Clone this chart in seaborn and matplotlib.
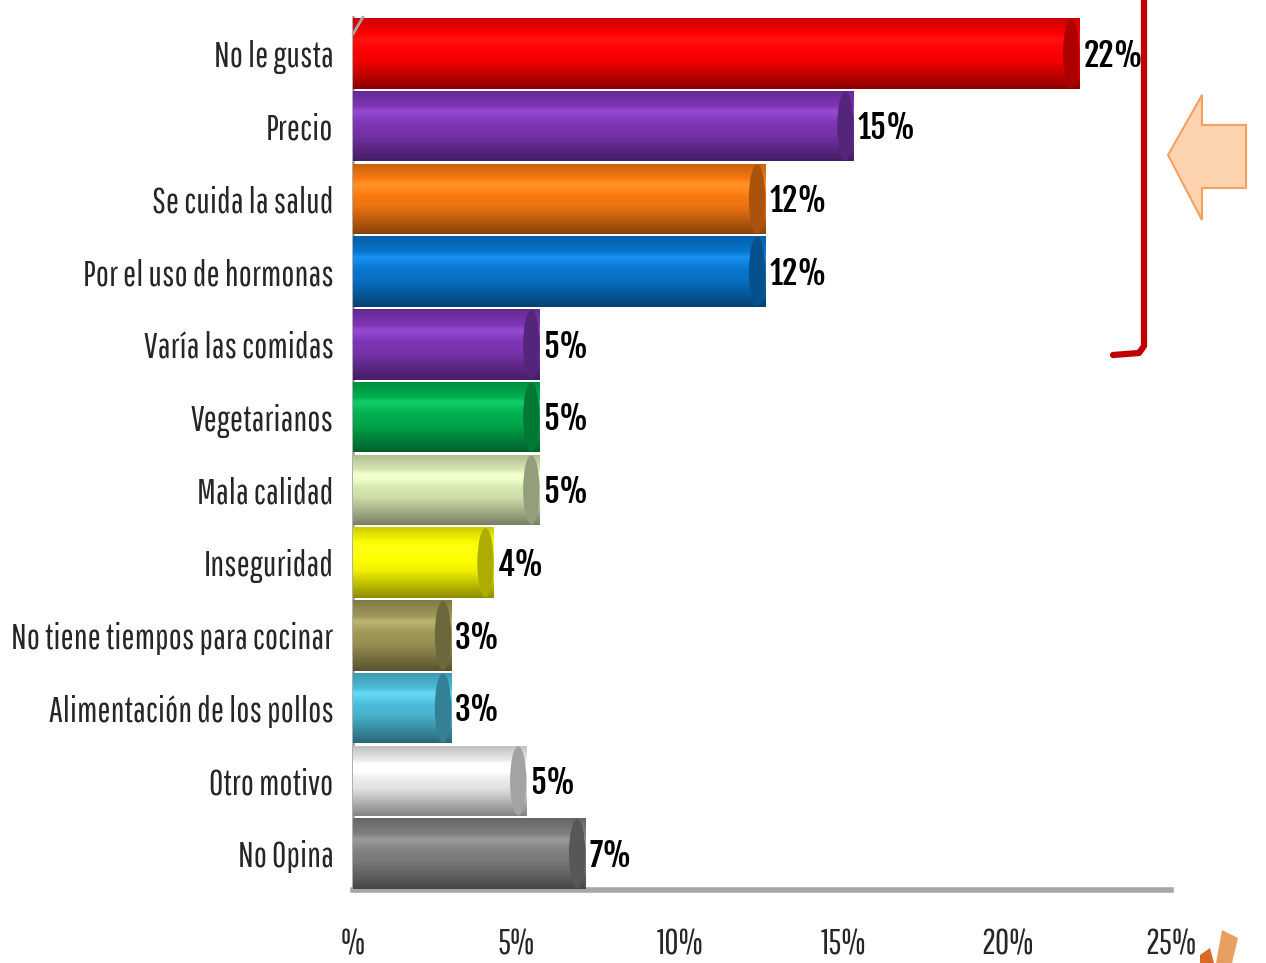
import numpy as np
import pandas as pd
import seaborn as sns
import matplotlib
import matplotlib.pyplot as plt
from matplotlib.patches import Ellipse, Polygon
from matplotlib.lines import Line2D
from matplotlib.colors import to_rgb
plt.switch_backend('Agg')

motivos = ["No le gusta", "Precio", "Se cuida la salud", "Por el uso de hormonas",
           "Varía las comidas", "Vegetarianos", "Mala calidad", "Inseguridad",
           "No tiene tiempos para cocinar", "Alimentación de los pollos",
           "Otro motivo", "No Opina"]
valores = [22.2, 15.3, 12.6, 12.6, 5.7, 5.7, 5.7, 4.3, 3.0, 3.0, 5.3, 7.1]
etiquetas = ["22%", "15%", "12%", "12%", "5%", "5%", "5%", "4%", "3%", "3%", "5%", "7%"]
colores = ["#ff0000", "#7d35b5", "#f97a12", "#0877d0", "#7d35b5", "#00b050",
           "#d9e9b3", "#ffff00", "#a09858", "#4cbcd9", "#efefef", "#808080"]
xticks = [0, 5, 10, 15, 20, 25]
xticklabels = ["%", "5%", "10%", "15%", "20%", "25%"]

sns.set_style("white")
matplotlib.rcParams['font.family'] = ["Pathway Gothic One", "DejaVu Sans"]
valfont = ["Fjalla One", "DejaVu Sans"]

W, H = 1266, 963
fig = plt.figure(figsize=(W / 100, H / 100), dpi=100)
ax = fig.add_axes([353 / W, 1 - 890 / H, (1171 - 353) / W, (890 - 17) / H])

df = pd.DataFrame({"motivo": motivos, "valor": valores})
sns.barplot(data=df, x="valor", y="motivo", hue="motivo", palette=colores,
            legend=False, width=0.97, ax=ax, saturation=1)

# cylinder look: gradient + end cap
prof = np.concatenate([np.linspace(0.8, 1.06, 30), np.linspace(1.06, 0.95, 30),
                       np.linspace(0.95, 0.55, 40)])
for p, c, v, lab in zip(ax.patches, colores, valores, etiquetas):
    x0, y0 = p.get_x(), p.get_y()
    w, h = p.get_width(), p.get_height()
    rgb = np.array(to_rgb(c))
    grad = np.clip(prof[:, None, None] * rgb[None, None, :] +
                   np.clip(prof - 1, 0, None)[:, None, None] * 1.2, 0, 1)
    grad = np.repeat(grad, 2, axis=1)
    im = ax.imshow(grad, extent=[x0, x0 + w, y0 + h, y0], origin="upper",
                   aspect="auto", zorder=3)
    im.set_clip_path(p)
    capw = 0.5
    cap = Ellipse((x0 + w - capw / 2, y0 + h / 2), capw, h * 0.98,
                  facecolor=np.clip(rgb * 0.68, 0, 1), edgecolor="none", zorder=4)
    ax.add_patch(cap)
    ax.text(x0 + w + 0.12, y0 + h / 2 + 0.03, lab, ha="left", va="center",
            fontsize=23, family=valfont, color="black", zorder=5)

ax.set_xlim(0, 25)
ax.set_ylim(11.5, -0.5)
ax.set_xticks(xticks)
ax.set_xticklabels(xticklabels, fontsize=25)
ax.set_xlabel("")
ax.set_ylabel("")
ax.tick_params(axis="y", labelsize=25, length=0, pad=14)
ax.set_yticks(np.arange(-0.5, 12, 1), minor=True)
ax.tick_params(axis="y", which="minor", length=7, color="#a6a6a6", width=1.2)
ax.tick_params(axis="x", length=14, color="#a6a6a6", width=1.2, pad=13,
               direction="out")

for s in ["top", "right"]:
    ax.spines[s].set_visible(False)
ax.spines["left"].set_color("#a6a6a6")
ax.spines["left"].set_linewidth(2)
ax.spines["bottom"].set_color("#a6a6a6")
ax.spines["bottom"].set_linewidth(4)

def fx(x):
    return x / W

def fy(y):
    return 1 - y / H

# 3d corner at top of wall
fig.add_artist(Line2D([fx(353), fx(363)], [fy(34), fy(17)], color="#a6a6a6", lw=2))

# red bracket
fig.add_artist(Line2D([fx(1144), fx(1144), fx(1139), fx(1113)],
                      [fy(0), fy(346), fy(353), fy(355)],
                      color="#c00000", lw=4.5, solid_joinstyle="round"))

# orange arrow
arrow = [(1168, 155), (1202, 95), (1202, 125), (1246, 125), (1246, 188),
         (1202, 188), (1202, 220)]
fig.add_artist(Polygon([(fx(a), fy(b)) for a, b in arrow], closed=True,
                       facecolor="#fdd3b0", edgecolor="#f4a160", lw=1.5))

# logo fragment at bottom right
fig.add_artist(Polygon([(fx(a), fy(b)) for a, b in
                        [(1222, 930), (1238, 938), (1232, 963), (1216, 963)]],
                       closed=True, facecolor="#e8a060", edgecolor="none"))
fig.add_artist(Polygon([(fx(a), fy(b)) for a, b in
                        [(1200, 955), (1210, 948), (1214, 963), (1200, 963)]],
                       closed=True, facecolor="#d86a28", edgecolor="none"))

plt.savefig("out.png", dpi=100)
